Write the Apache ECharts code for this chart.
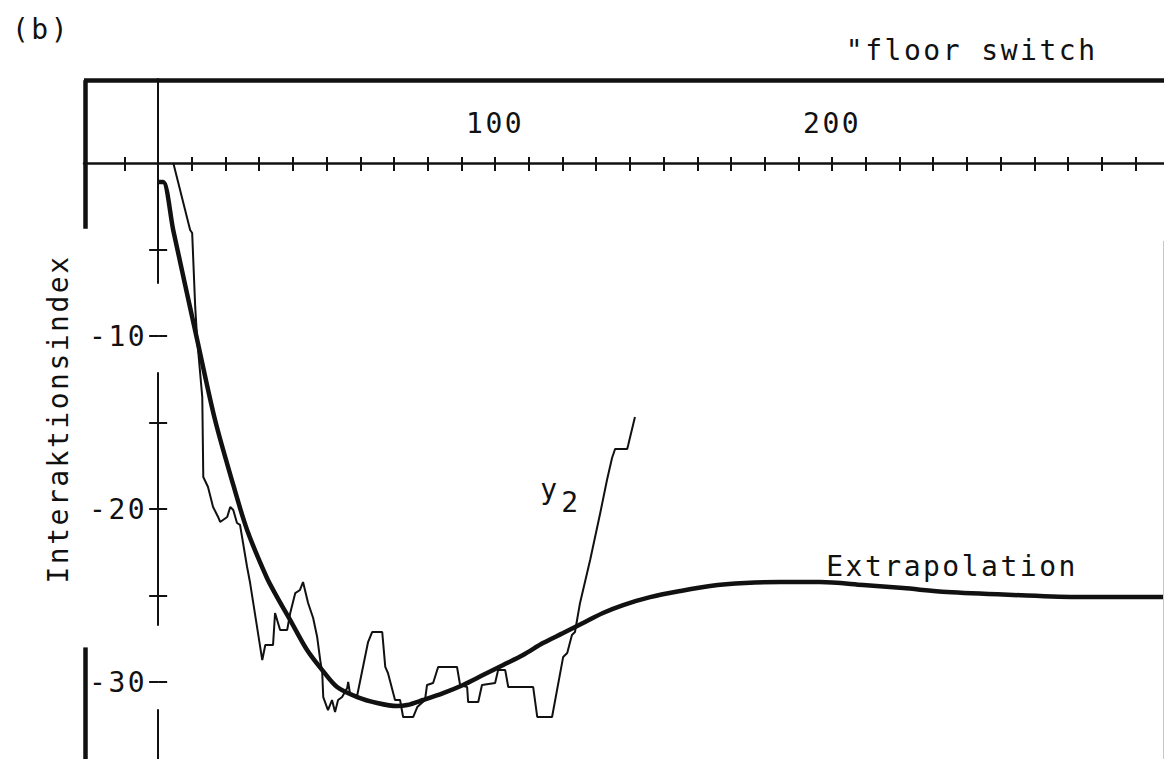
<!DOCTYPE html>
<html><head><meta charset="utf-8">
<script src="https://cdn.jsdelivr.net/npm/echarts@6/dist/echarts.min.js"></script>
<style>
html,body{margin:0;padding:0;background:#fff;}
#chart{width:1164px;height:759px;}
#chart text{letter-spacing:2.5px;}
</style></head><body><div id="chart"></div>
<script>
// tick / label values
const xTicks = [-10,0,10,20,30,40,50,60,70,80,90,100,110,120,130,140,150,160,170,180,190,200,210,220,230,240,250,260,270,280,290];
const xLabels = [100,200];
const yTicks = [-5,-10,-15,-20,-25,-30];
const yLabels = [-10,-20,-30];

// measured series y2
const y2X = [4.5,9.5,10.1,11.0,11.6,13.1,13.4,14.8,16.3,17.8,18.4,20.5,21.4,22.3,23.4,24.3,26.4,27.3,30.9,31.8,34.1,34.7,36.2,38.3,39.2,40.7,42.1,43.0,44.5,46.0,47.2,48.1,48.7,49.0,50.4,51.6,52.5,53.4,54.6,56.1,56.4,57.0,59.1,62.3,63.5,66.5,67.4,68.2,70.3,71.8,72.7,75.7,76.9,79.2,79.8,81.6,83.1,88.7,89.6,91.7,92.0,95.0,96.1,100.0,100.9,103.0,103.9,111.3,112.5,116.9,120.2,121.4,122.8,123.7,125.2,128.2,131.2,133.2,134.7,135.6,139.2,139.5,141.5];
const y2Y = [0,-3.87,-4.05,-8.32,-10.23,-13.53,-18.15,-18.73,-19.88,-20.46,-20.75,-20.46,-19.88,-20.06,-20.81,-20.92,-23.35,-24.28,-28.73,-27.86,-27.86,-26.01,-26.99,-26.99,-26.01,-24.86,-24.68,-24.22,-25.43,-26.30,-27.40,-28.73,-29.48,-30.87,-31.62,-31.04,-31.73,-31.04,-30.87,-30.35,-30.0,-30.75,-30.75,-27.69,-27.11,-27.11,-29.13,-29.48,-31.04,-31.04,-32.02,-32.02,-31.45,-31.04,-30.17,-30.06,-29.13,-29.13,-30.17,-30.29,-31.16,-31.16,-30.17,-30.06,-29.31,-29.31,-30.29,-30.29,-32.02,-32.02,-28.55,-28.32,-27.28,-27.11,-25.43,-22.95,-20.23,-18.32,-17.05,-16.53,-16.53,-16.30,-14.68];

// extrapolation curve
const extrX = [0,1.5,4.5,11.6,16.9,22.3,26.4,32.3,35.3,39.2,44.2,48.7,53.1,59.1,65.0,70.9,73.9,78.6,84.6,90.5,96.4,102.4,108.3,114.2,120.2,126.1,132.0,138.0,146.0,154.9,163.8,174.2,184.6,196.4,209.2,221.1,234.1,253.7,273.6,298.5];
const extrY = [-1.1,-1.1,-3.9,-10.23,-14.86,-18.61,-21.21,-23.99,-25.09,-26.42,-28.15,-29.31,-30.29,-30.87,-31.21,-31.39,-31.33,-31.04,-30.64,-30.17,-29.60,-29.02,-28.44,-27.75,-27.17,-26.59,-26.01,-25.55,-25.09,-24.74,-24.45,-24.28,-24.22,-24.22,-24.39,-24.57,-24.80,-24.97,-25.09,-25.09];

const xMin = -22, xMax = 298.5, yMin = -34.45, yMax = 4.855;
const FONT = 'DejaVu Sans Mono';
const INK = '#111';

const y2Data = y2X.map((x, i) => [x, y2Y[i]]);
const extrData = extrX.map((x, i) => [x, extrY[i]]);

const txt = {color: INK, fontFamily: FONT, fontSize: 28};

const GRID = {left: 84, right: 0, top: 79, bottom: 0};
const W = 1164, H = 759;
// pixel distance of the zero lines from the grid edges (axes cross at 0,0)
const plotW = W - GRID.left - GRID.right, plotH = H - GRID.top - GRID.bottom;
const zeroFromLeft = (0 - xMin) / (xMax - xMin) * plotW;
const zeroFromTop = (yMax - 0) / (yMax - yMin) * plotH;

const chart = echarts.init(document.getElementById('chart'), null, {renderer: 'svg'});
chart.setOption({
  animation: false,
  backgroundColor: '#fff',
  title: [
    {text: '(b)', left: 7, top: 10, textStyle: Object.assign({fontWeight: 'normal'}, txt)},
    {text: '"floor switch', right: 94, top: 31, textStyle: Object.assign({fontWeight: 'normal'}, txt)}
  ],
  grid: Object.assign({containLabel: false, outerBoundsMode: 'none'}, GRID),
  xAxis: [
    {type: 'value', min: xMin, max: xMax, position: 'top', offset: -zeroFromTop,
     axisLine: {onZero: false, lineStyle: {color: INK, width: 2.5}},
     axisTick: {show: true, customValues: xTicks, length: 6, lineStyle: {color: INK, width: 2}},
     axisLabel: Object.assign({show: true, customValues: xLabels, margin: 25}, txt),
     splitLine: {show: false}},
    {type: 'value', min: xMin, max: xMax, position: 'bottom', offset: -(plotH - zeroFromTop),
     axisLine: {show: true, onZero: false, lineStyle: {color: 'rgba(0,0,0,0)', width: 0}},
     axisTick: {show: true, customValues: xTicks, length: 8, lineStyle: {color: INK, width: 2}},
     axisLabel: {show: false}, splitLine: {show: false}}
  ],
  yAxis: [
    {type: 'value', min: yMin, max: yMax, position: 'left', offset: -zeroFromLeft,
     name: 'Interaktionsindex', nameLocation: 'middle', nameGap: 86,
     nameTextStyle: txt,
     axisLine: {onZero: false, lineStyle: {color: INK, width: 2, type: [49, 85, 252, 90, 260]}},
     axisTick: {show: true, customValues: yTicks, length: 9, lineStyle: {color: INK, width: 2}},
     axisLabel: Object.assign({show: true, customValues: yLabels, margin: 11}, txt),
     splitLine: {show: false}},
    {type: 'value', min: yMin, max: yMax, position: 'right', offset: -(plotW - zeroFromLeft),
     axisLine: {show: true, onZero: false, lineStyle: {color: 'rgba(0,0,0,0)', width: 0}},
     axisTick: {show: true, customValues: yTicks, length: 9, lineStyle: {color: INK, width: 2}},
     axisLabel: {show: false}, splitLine: {show: false}}
  ],
  series: [
    {name: 'y2', type: 'line', data: y2Data, symbol: 'none', xAxisIndex: 0, yAxisIndex: 0,
     lineStyle: {color: INK, width: 2}, z: 3,
     markPoint: {symbol: 'circle', symbolSize: 0, silent: true,
       label: Object.assign({show: true, position: 'inside'}, txt),
       data: [
         {coord: [116.3, -18.9], label: {formatter: 'y'}},
         {coord: [122.5, -19.6], label: {formatter: '2'}}
       ]}},
    {name: 'Extrapolation', type: 'line', data: extrData, symbol: 'none', smooth: 0.3,
     xAxisIndex: 0, yAxisIndex: 0, lineStyle: {color: INK, width: 4.5}, z: 4,
     markPoint: {symbol: 'circle', symbolSize: 0, silent: true,
       label: Object.assign({show: true, position: 'inside'}, txt),
       data: [{coord: [235.6, -23.35], label: {formatter: 'Extrapolation'}}]},
     markLine: {silent: true, symbol: ['none', 'none'], label: {show: false},
       lineStyle: {color: INK, width: 4.5, type: 'solid'},
       data: [
         [{coord: [xMin, 4.78]}, {coord: [xMax, 4.78]}],
         [{coord: [-21.6, 4.78]}, {coord: [-21.6, -3.8]}],
         [{coord: [-21.6, -28.0]}, {coord: [-21.6, yMin]}],
         [{coord: [298.2, -4.5], lineStyle: {color: '#c8c8c8', width: 1}}, {coord: [298.2, yMin]}]
       ]}}
  ]
});
</script></body></html>
